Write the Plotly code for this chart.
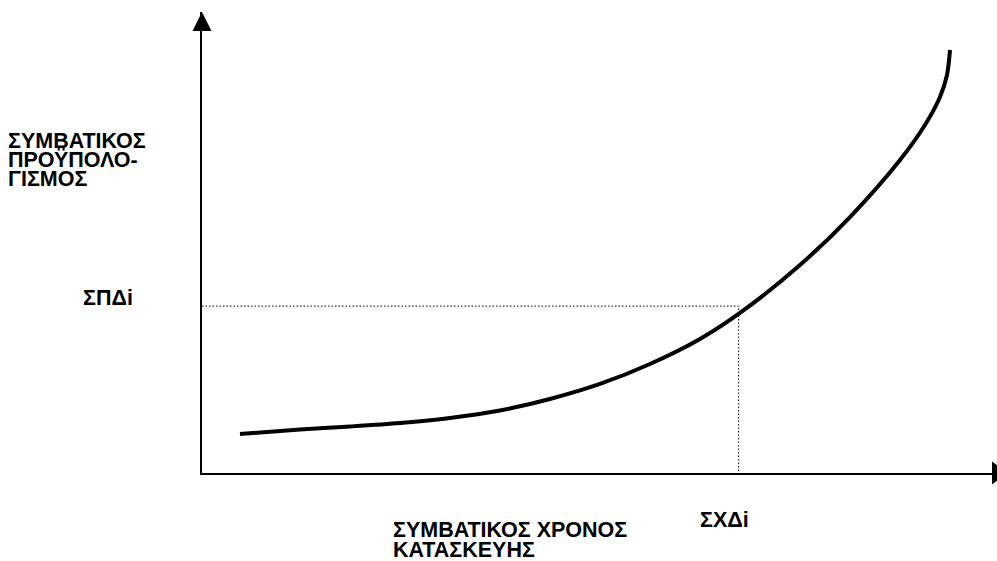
import plotly.graph_objects as go

# Curve: conventional construction time (x) vs conventional budget (y), arbitrary units
curve_x = [4.78, 12.33, 18.62, 24.91, 31.19, 37.48, 43.77, 50.06, 56.35, 62.64,
           67.67, 75.22, 81.51, 87.80, 90.94, 92.83, 93.71, 94.09]
curve_y = [8.46, 9.44, 10.09, 10.85, 11.93, 13.56, 16.05, 19.31, 23.64, 29.07,
           34.71, 45.12, 55.53, 67.90, 75.49, 81.56, 86.33, 91.76]

# Reference point (ΣΧΔi, ΣΠΔi)
sxdi = 67.5
spdi = 36.2

y_title_lines = ["ΣΥΜΒΑΤΙΚΟΣ", "ΠΡΟΫΠΟΛΟ-", "ΓΙΣΜΟΣ"]
x_title_lines = ["ΣΥΜΒΑΤΙΚΟΣ ΧΡΟΝΟΣ", "ΚΑΤΑΣΚΕΥΗΣ"]
x_point_label = "ΣΧΔi"
y_point_label = "ΣΠΔi"

FONT = "Liberation Sans, Arial, sans-serif"

fig = go.Figure()

# Dotted guide lines
fig.add_trace(go.Scatter(
    x=[0, sxdi, sxdi], y=[spdi, spdi, -1.0],
    mode="lines", line=dict(color="black", width=1, dash="1.5px,2px"),
    cliponaxis=False, hoverinfo="skip", showlegend=False))

# Main curve
fig.add_trace(go.Scatter(
    x=curve_x, y=curve_y, mode="lines",
    line=dict(color="black", width=4, shape="spline", smoothing=0.8),
    cliponaxis=False, hoverinfo="skip", showlegend=False))

# Axis arrowheads
fig.add_trace(go.Scatter(
    x=[0], y=[100], mode="markers",
    marker=dict(symbol="arrow-up", size=19, color="black", line=dict(width=0)),
    cliponaxis=False, hoverinfo="skip", showlegend=False))
fig.add_trace(go.Scatter(
    x=[100], y=[0], mode="markers",
    marker=dict(symbol="triangle-right", size=20, color="black", line=dict(width=0)),
    cliponaxis=False, hoverinfo="skip", showlegend=False))

ann = []
y_pos = [0.7202, 0.6790, 0.6377]
for t, yp in zip(y_title_lines, y_pos):
    ann.append(dict(text=t, x=-0.2453, y=yp, xref="paper", yref="paper",
                    xanchor="left", yanchor="middle", showarrow=False))
ann.append(dict(text=y_point_label, x=-0.1509, y=0.3796, xref="paper", yref="paper",
                xanchor="left", yanchor="middle", showarrow=False))
ann.append(dict(text=x_point_label, x=0.6252, y=-0.1020, xref="paper", yref="paper",
                xanchor="left", yanchor="middle", showarrow=False))
x_pos = [-0.1236, -0.1670]
for t, yp in zip(x_title_lines, x_pos):
    ann.append(dict(text=t, x=0.2390, y=yp, xref="paper", yref="paper",
                    xanchor="left", yanchor="middle", showarrow=False))
for a in ann:
    a["font"] = dict(family=FONT, size=21.5, color="black", weight="bold")
    a["borderpad"] = 0

fig.update_layout(
    width=997, height=561,
    margin=dict(l=202, r=0, t=12, b=88, pad=0),
    paper_bgcolor="white", plot_bgcolor="white",
    annotations=ann,
    hovermode=False,
    xaxis=dict(range=[0, 100], showline=True, linewidth=2, linecolor="black",
               showgrid=False, zeroline=False, showticklabels=False, ticks=""),
    yaxis=dict(range=[0, 100], showline=True, linewidth=2, linecolor="black",
               showgrid=False, zeroline=False, showticklabels=False, ticks=""),
    font=dict(family=FONT),
)

# remove the default page margin so the 997x561 figure fills the window exactly
fig.write_html(
    "out.html",
    config={"displayModeBar": False},
    post_script="document.body.style.margin='0px';document.body.style.overflow='hidden';",
)
